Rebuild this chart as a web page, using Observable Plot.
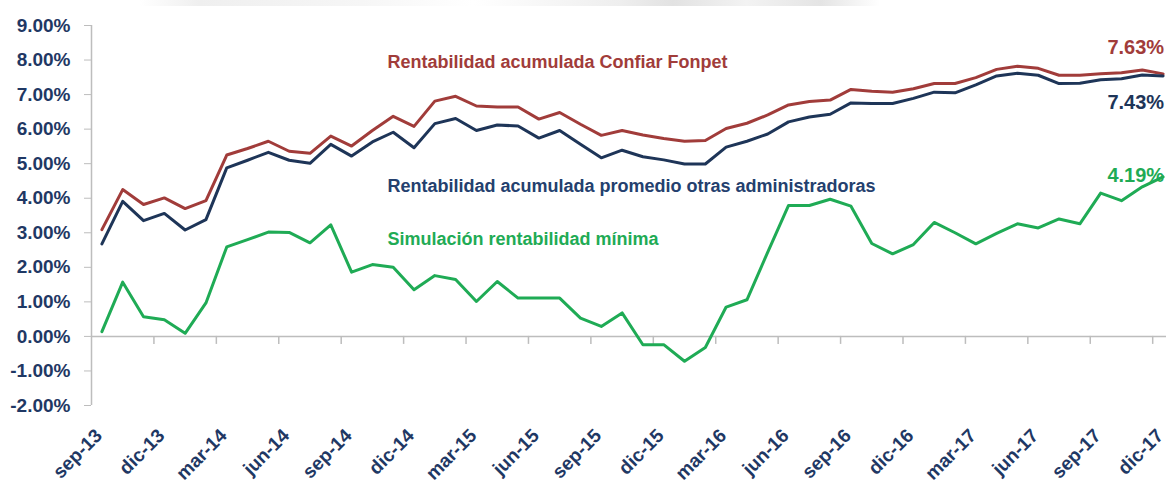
<!DOCTYPE html>
<html>
<head>
<meta charset="utf-8">
<script src="https://cdn.jsdelivr.net/npm/d3@7"></script>
<script src="https://cdn.jsdelivr.net/npm/@observablehq/plot@0.6"></script>
<style>
  html, body { margin: 0; padding: 0; background: #fff; }
  #wrap { position: relative; width: 1166px; height: 480px; overflow: hidden; }
  #band { position: absolute; left: 140px; top: 0; width: 740px; height: 6px;
    background: linear-gradient(90deg, rgba(225,225,225,0) 0%, #efefef 8%, #f6f6f6 30%, rgba(255,255,255,0) 45%, #eeeeee 65%, #e2e2e2 72%, #f3f3f3 82%, #e4e4e4 92%, rgba(240,240,240,0) 100%); }
</style>
</head>
<body>
<div id="wrap"><div id="band"></div></div>
<script>
const months = ["sep-13","oct-13","nov-13","dic-13","ene-14","feb-14","mar-14","abr-14","may-14","jun-14","jul-14","ago-14",
  "sep-14","oct-14","nov-14","dic-14","ene-15","feb-15","mar-15","abr-15","may-15","jun-15","jul-15","ago-15",
  "sep-15","oct-15","nov-15","dic-15","ene-16","feb-16","mar-16","abr-16","may-16","jun-16","jul-16","ago-16",
  "sep-16","oct-16","nov-16","dic-16","ene-17","feb-17","mar-17","abr-17","may-17","jun-17","jul-17","ago-17",
  "sep-17","oct-17","nov-17","dic-17"];

const confiar = [3.09,4.25,3.82,4.01,3.70,3.93,5.25,5.44,5.65,5.36,5.30,5.80,
  5.51,5.96,6.37,6.08,6.81,6.95,6.67,6.64,6.64,6.29,6.48,6.14,
  5.82,5.96,5.83,5.73,5.65,5.67,6.02,6.17,6.41,6.70,6.80,6.84,
  7.15,7.10,7.07,7.17,7.32,7.32,7.49,7.73,7.82,7.76,7.56,7.56,
  7.60,7.63,7.71,7.60];

const promedio = [2.68,3.91,3.35,3.56,3.08,3.38,4.88,5.10,5.33,5.10,5.01,5.56,
  5.22,5.63,5.91,5.46,6.16,6.31,5.96,6.12,6.09,5.74,5.96,5.56,
  5.17,5.39,5.20,5.11,4.99,4.99,5.48,5.65,5.86,6.21,6.35,6.43,
  6.76,6.74,6.74,6.89,7.07,7.05,7.28,7.54,7.62,7.56,7.32,7.33,
  7.43,7.46,7.57,7.54];

const minima = [0.14,1.57,0.57,0.48,0.09,0.97,2.59,2.80,3.02,3.01,2.71,3.23,
  1.86,2.08,2.00,1.35,1.76,1.65,1.01,1.59,1.11,1.11,1.11,0.53,
  0.29,0.68,-0.24,-0.24,-0.72,-0.32,0.85,1.06,2.44,3.79,3.79,3.97,
  3.77,2.69,2.39,2.66,3.30,3.00,2.68,2.98,3.26,3.14,3.40,3.26,
  4.15,3.93,4.33,4.62];

const seriesNames = ["Rentabilidad acumulada Confiar Fonpet",
  "Rentabilidad acumulada promedio otras administradoras",
  "Simulación rentabilidad mínima"];
const endLabels = ["7.63%", "7.43%", "4.19%"];
const yTicks = [9,8,7,6,5,4,3,2,1,0,-1,-2];
const xLabelIdx = [0,3,6,9,12,15,18,21,24,27,30,33,36,39,42,45,48,51];
const xBoundaryIdx = [2.5,5.5,8.5,11.5,14.5,17.5,20.5,23.5,26.5,29.5,32.5,35.5,38.5,41.5,44.5,47.5,50.5];

const RED = "#a13c3a", NAVY = "#1e3558", GREEN = "#1fab55", AXIS = "#bdbdbd", LABEL = "#1f3864";

const rows = [];
const colors = [RED, NAVY, GREEN];
[confiar, promedio, minima].forEach((arr, s) => arr.forEach((v, i) => rows.push({i, v, s})));

const lastOf = (arr) => arr[arr.length - 1];
const ends = [
  {text: endLabels[0], i: 51, v: lastOf(confiar), c: RED, dy: -26},
  {text: endLabels[1], i: 51, v: lastOf(promedio), c: NAVY, dy: 27},
  {text: endLabels[2], i: 51, v: lastOf(minima), c: GREEN, dy: -1}
];

const names = [
  {text: seriesNames[0], c: RED, dy: 37},
  {text: seriesNames[1], c: "#24406e", dy: 161},
  {text: seriesNames[2], c: GREEN, dy: 214}
];

const chart = Plot.plot({
  width: 1166,
  height: 480,
  marginTop: 25,
  marginBottom: 75,
  marginLeft: 91,
  marginRight: 0,
  style: {fontFamily: "'Liberation Sans', Arial, sans-serif", fontWeight: "bold", background: "transparent"},
  x: {type: "linear", domain: [-0.5, 51.5], range: [91, 1173]},
  y: {domain: [-2, 9]},
  marks: [
    Plot.ruleX([-0.5], {y1: -2, y2: 9, stroke: AXIS, strokeWidth: 1.5}),
    Plot.ruleY([0], {stroke: AXIS, strokeWidth: 1.5}),
    Plot.ruleX(xBoundaryIdx, {x: d => d, y1: 0, y2: 0, insetBottom: -8, stroke: AXIS, strokeWidth: 1.5}),
    Plot.axisY({ticks: yTicks, tickFormat: d => d.toFixed(2) + "%", tickSize: 7, tickPadding: 14,
      stroke: AXIS, fill: LABEL, fontSize: 19, fontWeight: "bold", label: null}),
    Plot.axisX({ticks: xLabelIdx, tickFormat: i => months[i], tickRotate: -45, tickSize: 0, tickPadding: 27, dx: -3,
      fill: LABEL, fontSize: 19, fontWeight: "bold", label: null}),
    Plot.line(rows, {x: "i", y: "v", z: "s", stroke: d => colors[d.s], strokeWidth: 3, curve: "linear"}),
    ...names.map(n => Plot.text([n], {frameAnchor: "top-left", text: "text", fill: n.c, dx: 296, dy: n.dy, fontSize: 18, fontWeight: "bold", textAnchor: "start", lineAnchor: "middle"})),
    ...ends.map(e => Plot.text([e], {x: "i", y: "v", text: "text", fill: e.c, dy: e.dy, dx: 1, fontSize: 20, fontWeight: "bold", textAnchor: "end", lineAnchor: "middle"}))
  ]
});
document.getElementById("wrap").appendChild(chart);
</script>
</body>
</html>
